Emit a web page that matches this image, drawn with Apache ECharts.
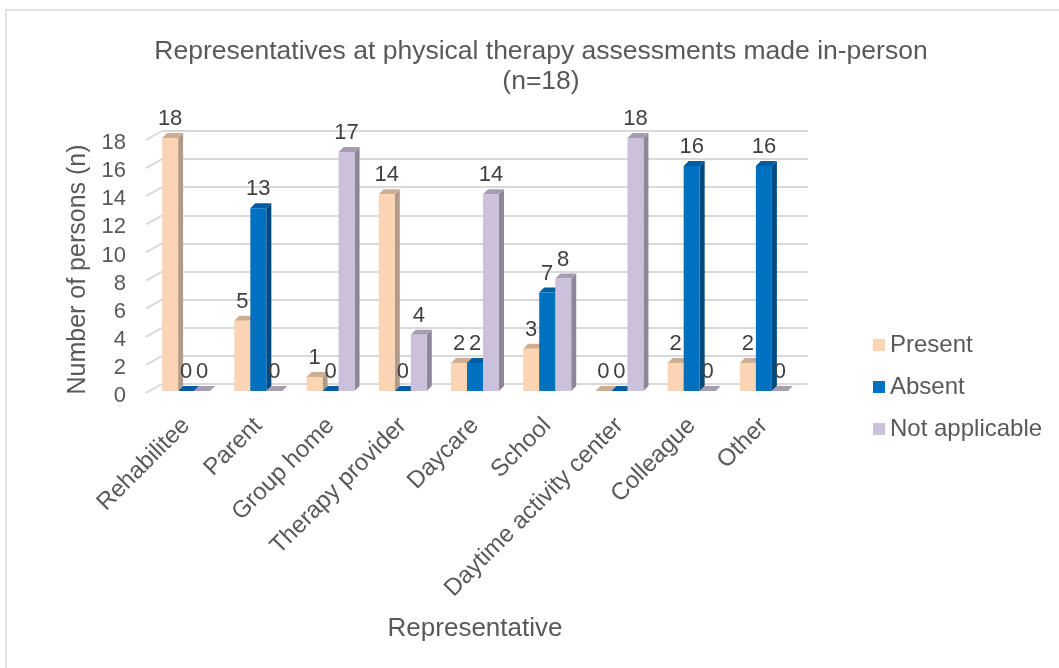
<!DOCTYPE html>
<html>
<head>
<meta charset="utf-8">
<script src="https://cdn.jsdelivr.net/npm/echarts@6/dist/echarts.min.js"></script>
<style>
html,body{margin:0;padding:0;background:#fff;}
#chart{width:1059px;height:668px;}
</style>
</head>
<body>
<div id="chart"></div>
<script>
const categories = ['Rehabilitee', 'Parent', 'Group home', 'Therapy provider', 'Daycare', 'School', 'Daytime activity center', 'Colleague', 'Other'];
const present = [18, 5, 1, 14, 2, 3, 0, 2, 2];
const absent = [0, 13, 0, 0, 2, 7, 0, 16, 16];
const notApplicable = [0, 0, 17, 4, 14, 8, 18, 0, 0];
const seriesNames = ['Present', 'Absent', 'Not applicable'];
const yTicks = [0, 2, 4, 6, 8, 10, 12, 14, 16, 18];

const FONT = "'Liberation Sans', Arial, sans-serif";
const TXT = '#595959';
const frontColors = ['#FBD4B4', '#0070C0', '#CCC1DA'];
const sideColors = ['#B39A86', '#004A80', '#8E8799'];
const topColors = ['#CDAE93', '#005C9E', '#A69DB3'];
const seriesData = [present, absent, notApplicable];
const BW = 16, DEPTH = 5;

const chart = echarts.init(document.getElementById('chart'), null, {renderer: 'canvas'});

const barSeries = seriesData.map((vals, k) => ({
  name: seriesNames[k],
  type: 'bar',
  xAxisIndex: 0, yAxisIndex: 0,
  data: vals,
  barWidth: BW,
  barGap: '0%',
  z: 3,
  itemStyle: {color: frontColors[k]},
  label: {show: true, position: 'top', distance: 8, fontSize: 22, color: '#404040', fontFamily: FONT}
}));

const faceSeries = seriesData.map((vals, k) => ({
  name: seriesNames[k],
  type: 'custom',
  xAxisIndex: 0, yAxisIndex: 0,
  z: 2,
  silent: true,
  data: vals.map((v, i) => [i, v]),
  renderItem: function (params, api) {
    const i = api.value(0), v = api.value(1);
    const top = api.coord([i, v]);
    const base = api.coord([i, 0]);
    const x0 = top[0] - 1.5 * BW + k * BW;
    const yt = top[1], yb = base[1];
    return {
      type: 'group',
      children: [
        {type: 'polygon', shape: {points: [[x0 + BW, yt], [x0 + BW + DEPTH, yt - DEPTH], [x0 + BW + DEPTH, yb - DEPTH], [x0 + BW, yb]]}, style: {fill: sideColors[k]}},
        {type: 'polygon', shape: {points: [[x0, yt], [x0 + DEPTH, yt - DEPTH], [x0 + BW + DEPTH, yt - DEPTH], [x0 + BW, yt]]}, style: {fill: topColors[k]}}
      ]
    };
  }
}));

const diagSeries = {
  type: 'custom',
  xAxisIndex: 1, yAxisIndex: 1,
  silent: true,
  z: 1,
  data: yTicks.map(v => [0, v]),
  renderItem: function (params, api) {
    const p = api.coord([0, api.value(1)]);
    return {type: 'line', shape: {x1: p[0] - 16, y1: p[1] + 9, x2: p[0], y2: p[1]}, style: {stroke: '#D9D9D9', lineWidth: 2}};
  }
};

const option = {
  backgroundColor: '#ffffff',
  animation: false,
  textStyle: {fontFamily: FONT},
  graphic: [{type: 'rect', shape: {x: 6, y: 10, width: 1100, height: 700}, style: {fill: 'none', stroke: '#D9D9D9', lineWidth: 1.5}, z: -10}],
  title: {
    text: 'Representatives at physical therapy assessments made in-person\n(n=18)',
    left: 536, top: 32, textAlign: 'center',
    textStyle: {fontSize: 26.5, fontWeight: 'normal', color: TXT, fontFamily: FONT, lineHeight: 30}
  },
  legend: {
    data: seriesNames,
    orient: 'vertical',
    left: 868, top: 328,
    icon: 'rect',
    itemWidth: 12, itemHeight: 12,
    itemGap: 18,
    textStyle: {fontSize: 24, color: TXT, fontFamily: FONT}
  },
  grid: [
    {left: 150, top: 138, width: 650, height: 253},
    {left: 162, top: 131, width: 646, height: 253},
    {left: 150, top: 143, width: 650, height: 253}
  ],
  xAxis: [
    {
      type: 'category', gridIndex: 0, data: categories,
      axisLine: {show: false}, axisTick: {show: false},
      axisLabel: {rotate: 45, interval: 0, margin: 31, fontSize: 24, color: TXT, fontFamily: FONT},
      name: 'Representative', nameLocation: 'middle', nameGap: 225,
      nameTextStyle: {fontSize: 26, color: TXT, fontFamily: FONT}
    },
    {type: 'value', gridIndex: 1, min: 0, max: 1, show: false},
    {type: 'value', gridIndex: 2, min: 0, max: 1, show: false}
  ],
  yAxis: [
    {
      type: 'value', gridIndex: 0, min: 0, max: 18, interval: 2,
      axisLine: {show: false}, axisTick: {show: false}, splitLine: {show: false},
      axisLabel: {show: false}
    },
    {
      type: 'value', gridIndex: 1, min: 0, max: 18, interval: 2,
      axisLine: {show: false}, axisTick: {show: false}, axisLabel: {show: false},
      splitLine: {show: true, lineStyle: {color: '#D9D9D9', width: 2}}
    },
    {
      type: 'value', gridIndex: 2, min: 0, max: 18, interval: 2,
      axisLine: {show: false}, axisTick: {show: false}, splitLine: {show: false},
      axisLabel: {margin: 24, fontSize: 22, color: TXT, fontFamily: FONT},
      name: 'Number of persons (n)', nameLocation: 'middle', nameGap: 58,
      nameTextStyle: {fontSize: 25, color: TXT, fontFamily: FONT}
    }
  ],
  series: [...barSeries, ...faceSeries, diagSeries]
};
chart.setOption(option);
</script>
</body>
</html>
